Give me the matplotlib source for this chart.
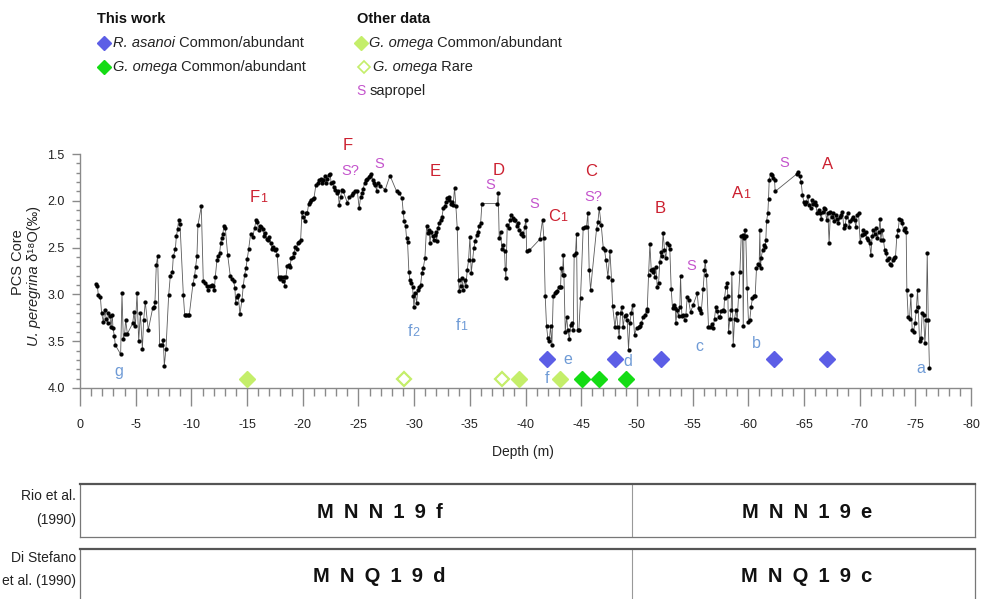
import matplotlib
matplotlib.use('Agg')
import matplotlib.pyplot as plt
import numpy as np
from matplotlib.ticker import FixedLocator, MultipleLocator

plt.rcParams['font.family'] = ['Liberation Sans', 'DejaVu Sans']

# ---------------- data: U. peregrina d18O vs depth ----------------
depth_1 = [-1.44, -1.56, -1.65, -1.83, -1.94, -2.09, -2.24, -2.36, -2.48, -2.54,
           -2.69, -2.78, -2.90, -2.96, -3.08, -3.17, -3.65, -3.77, -3.89, -4.01,
           -4.10, -4.25, -4.73, -4.85, -4.97, -5.12, -5.27, -5.42, -5.60, -5.72,
           -5.86, -6.13, -6.52, -6.64, -6.73, -6.85, -6.97, -7.15, -7.33, -7.48,
           -7.57, -7.72, -7.96, -8.11, -8.29, -8.38, -8.56, -8.65, -8.77, -8.86,
           -8.98, -9.28, -9.40, -9.52, -9.67, -9.81, -10.14, -10.29, -10.38, -10.50,
           -10.59, -10.89, -11.07, -11.22, -11.37, -11.52, -11.67, -11.82, -11.97, -12.06,
           -12.15, -12.30, -12.42, -12.54, -12.63, -12.72, -12.81, -12.93, -13.05, -13.26,
           -13.49, -13.64, -13.79, -13.91, -13.97, -14.06, -14.21, -14.36]
d18o_1 = [2.89, 2.91, 3.01, 3.03, 3.20, 3.29, 3.17, 3.26, 3.31, 3.20,
          3.23, 3.35, 3.22, 3.36, 3.44, 3.54, 3.64, 2.99, 3.48, 3.42,
          3.27, 3.42, 3.31, 3.19, 3.34, 2.99, 3.50, 3.20, 3.58, 3.27,
          3.08, 3.38, 3.15, 3.13, 3.08, 2.69, 2.59, 3.54, 3.54, 3.49,
          3.76, 3.58, 3.01, 2.80, 2.76, 2.59, 2.52, 2.38, 2.30, 2.20,
          2.25, 3.01, 3.22, 3.22, 3.22, 3.22, 2.89, 2.80, 2.71, 2.59,
          2.26, 2.06, 2.86, 2.88, 2.91, 2.95, 2.91, 2.90, 2.91, 2.95,
          2.81, 2.63, 2.59, 2.56, 2.45, 2.40, 2.36, 2.27, 2.29, 2.58,
          2.80, 2.84, 2.86, 2.93, 3.09, 3.03, 3.01, 3.21]

depth_2 = [-14.54, -14.66, -14.78, -14.90, -15.02, -15.14, -15.32, -15.50, -15.68, -15.80,
           -15.92, -16.04, -16.16, -16.28, -16.40, -16.52, -16.64, -16.76, -16.88, -17.00,
           -17.12, -17.24, -17.35, -17.48, -17.59, -17.71, -17.83, -17.95, -18.07, -18.19,
           -18.31, -18.37, -18.49, -18.61, -18.73, -18.85, -18.97, -19.09, -19.21, -19.33,
           -19.45, -19.57, -19.69, -19.81, -19.93, -20.05, -20.17, -20.29, -20.41, -20.53,
           -20.65, -20.77, -20.89, -21.01, -21.18, -21.36, -21.48, -21.60, -21.72, -21.84,
           -21.96, -22.08, -22.20, -22.32, -22.44, -22.56, -22.68, -22.80, -22.92, -23.04,
           -23.16, -23.28, -23.40, -23.52, -23.64, -24.00, -24.18, -24.42, -24.54, -24.72,
           -24.90, -25.07, -25.19, -25.31, -25.43, -25.55, -25.67, -25.79, -25.91, -26.03,
           -26.15, -26.27, -26.39, -26.51, -26.63, -26.75, -26.93, -27.41, -27.83, -28.43,
           -28.67, -28.91, -29.02, -29.11, -29.23, -29.32, -29.41, -29.53, -29.62, -29.74,
           -29.86, -29.92, -29.98, -30.10, -30.22, -30.34, -30.46, -30.58, -30.70, -30.82,
           -30.97]
d18o_2 = [3.06, 2.91, 2.79, 2.72, 2.62, 2.52, 2.35, 2.39, 2.29, 2.21,
          2.23, 2.31, 2.27, 2.28, 2.30, 2.38, 2.34, 2.41, 2.42, 2.39,
          2.45, 2.52, 2.49, 2.53, 2.51, 2.58, 2.81, 2.84, 2.81, 2.86,
          2.81, 2.91, 2.81, 2.70, 2.69, 2.71, 2.61, 2.60, 2.56, 2.49,
          2.51, 2.45, 2.44, 2.42, 2.12, 2.17, 2.22, 2.13, 2.13, 2.03,
          2.01, 1.99, 1.98, 1.97, 1.83, 1.81, 1.78, 1.77, 1.81, 1.78,
          1.74, 1.81, 1.77, 1.72, 1.71, 1.81, 1.80, 1.85, 1.88, 1.92,
          1.90, 2.04, 1.96, 1.88, 1.90, 2.02, 1.96, 1.94, 1.92, 1.90,
          1.90, 2.08, 1.96, 1.92, 1.87, 1.81, 1.78, 1.77, 1.75, 1.73,
          1.71, 1.78, 1.81, 1.83, 1.89, 1.81, 1.84, 1.88, 1.73, 1.90,
          1.92, 1.97, 2.12, 2.22, 2.27, 2.40, 2.44, 2.76, 2.85, 2.88,
          2.92, 3.02, 3.13, 2.99, 3.09, 2.95, 2.92, 2.90, 2.77, 2.72,
          2.61]

depth_3 = [-31.12, -31.24, -31.36, -31.42, -31.54, -31.66, -31.78, -31.84, -31.96, -32.02,
           -32.14, -32.26, -32.38, -32.50, -32.62, -32.74, -32.85, -32.97, -33.09, -33.15,
           -33.27, -33.39, -33.51, -33.63, -33.75, -33.87, -33.99, -34.05, -34.17, -34.29,
           -34.41, -34.53, -34.65, -34.77, -34.89, -35.01, -35.13, -35.25, -35.37, -35.49,
           -35.61, -35.73, -35.85, -35.97, -36.09, -37.46, -37.55, -37.64, -37.76, -37.88,
           -38.00, -38.12, -38.18, -38.24, -38.36, -38.48, -38.60, -38.72, -38.84, -38.96,
           -39.08, -39.20, -39.32, -39.44, -39.56, -39.68, -39.80, -39.92, -40.04, -40.10,
           -40.34, -41.29, -41.53, -41.65, -41.77, -41.89, -42.01, -42.13, -42.25, -42.37,
           -42.49, -42.61, -42.73, -42.85, -42.97, -43.09]
d18o_3 = [2.27, 2.34, 2.31, 2.45, 2.33, 2.38, 2.42, 2.37, 2.33, 2.43,
          2.29, 2.24, 2.20, 2.17, 2.08, 2.06, 2.01, 1.97, 1.96, 1.99,
          2.03, 2.01, 2.04, 1.86, 2.06, 2.29, 2.85, 2.96, 2.91, 2.83,
          2.95, 2.85, 2.91, 2.74, 2.63, 2.39, 2.77, 2.63, 2.50, 2.43,
          2.37, 2.33, 2.27, 2.24, 2.03, 2.03, 1.92, 2.40, 2.33, 2.52,
          2.47, 2.54, 2.73, 2.83, 2.26, 2.29, 2.20, 2.15, 2.18, 2.21,
          2.20, 2.27, 2.24, 2.31, 2.35, 2.34, 2.38, 2.28, 2.20, 2.54,
          2.53, 2.41, 2.20, 2.40, 3.02, 3.34, 3.47, 3.50, 3.34, 3.54,
          3.02, 2.99, 2.97, 2.96, 2.92, 2.92]

depth_4 = [-43.15, -43.21, -43.33, -43.39, -43.45, -43.57, -43.69, -43.81, -43.93, -44.05,
           -44.17, -44.29, -44.37, -44.49, -44.58, -44.67, -44.79, -44.94, -45.18, -45.33,
           -45.48, -45.60, -45.72, -45.84, -46.38, -46.50, -46.62, -46.80, -46.98, -47.10,
           -47.22, -47.40, -47.58, -47.73, -47.82, -48.03, -48.18, -48.29, -48.41, -48.53,
           -48.65, -48.77, -48.89, -49.01, -49.13, -49.25, -49.37, -49.49, -49.61, -49.79,
           -49.97, -50.15, -50.27, -50.39, -50.57, -50.75, -50.87, -50.93, -51.05, -51.17,
           -51.29, -51.41, -51.47, -51.59, -51.71, -51.83, -51.95, -52.06, -52.15, -52.24,
           -52.36, -52.48, -52.60, -52.72, -52.84, -52.96, -53.08, -53.20, -53.32, -53.44,
           -53.50, -53.62, -53.74, -53.86, -53.92, -54.04, -54.16, -54.28, -54.40, -54.52,
           -54.64, -54.82, -55.06, -55.42, -55.54, -55.66, -55.77, -55.95, -56.07, -56.13,
           -56.25, -56.43, -56.61, -56.73, -56.85, -56.97, -57.09, -57.21, -57.33]
d18o_4 = [2.92, 2.72, 2.79, 2.58, 2.79, 3.40, 3.24, 3.38, 3.48, 3.33,
          3.31, 3.38, 2.58, 2.56, 2.35, 3.38, 3.38, 3.04, 2.29, 2.28,
          2.28, 2.13, 2.74, 2.95, 2.30, 2.23, 2.08, 2.26, 2.50, 2.53,
          2.63, 2.81, 2.54, 2.85, 3.12, 3.35, 3.20, 3.35, 3.45, 3.20,
          3.13, 3.35, 3.23, 3.22, 3.27, 3.59, 3.31, 3.20, 3.11, 3.43,
          3.36, 3.35, 3.34, 3.31, 3.24, 3.22, 3.18, 3.16, 2.79, 2.46,
          2.74, 2.76, 2.73, 2.81, 2.71, 2.92, 2.88, 2.65, 2.55, 2.59,
          2.34, 2.53, 2.61, 2.45, 2.47, 2.52, 2.94, 3.15, 3.11, 3.14,
          3.31, 3.17, 3.23, 3.13, 2.80, 3.23, 3.22, 3.27, 3.22, 3.03,
          3.06, 3.19, 3.11, 2.99, 3.15, 3.17, 3.20, 2.94, 2.74, 2.64,
          2.79, 3.35, 3.35, 3.32, 3.36, 3.26, 3.13, 3.18, 3.24]

depth_5 = [-57.45, -57.57, -57.69, -57.81, -57.87, -57.99, -58.11, -58.17, -58.23, -58.35,
           -58.47, -58.53, -58.65, -58.77, -58.89, -59.01, -59.13, -59.25, -59.37, -59.49,
           -59.55, -59.61, -59.72, -59.78, -59.90, -60.02, -60.14, -60.26, -60.38, -60.50,
           -60.62, -60.74, -60.86, -60.98, -61.04, -61.10, -61.16, -61.28, -61.40, -61.52,
           -61.58, -61.64, -61.76, -61.82, -61.88, -62.00, -62.12, -62.24, -62.36, -62.42,
           -64.39, -64.51, -64.63, -64.75, -64.87, -64.99, -65.11, -65.23, -65.35, -65.47,
           -65.59, -65.71, -65.83, -65.95, -66.07, -66.19, -66.31, -66.43, -66.55, -66.67,
           -66.79, -66.91, -67.03, -67.15, -67.26, -67.38, -67.50, -67.62, -67.74, -67.86,
           -67.98, -68.10, -68.22, -68.34, -68.46, -68.58, -68.70, -68.82, -68.94, -69.06,
           -69.18, -69.30, -69.42, -69.54, -69.66, -69.78, -69.90]
d18o_5 = [3.24, 3.18, 3.17, 3.18, 3.04, 2.92, 2.88, 3.02, 3.40, 3.26,
          3.17, 2.77, 3.54, 3.26, 3.17, 3.27, 3.02, 2.76, 2.38, 2.37,
          3.34, 2.40, 2.31, 2.38, 2.93, 3.29, 3.27, 3.13, 3.04, 3.02,
          3.02, 2.72, 2.67, 2.69, 2.31, 2.72, 2.61, 2.53, 2.47, 2.49,
          2.42, 2.22, 2.13, 1.98, 1.78, 1.71, 1.72, 1.76, 1.78, 1.90,
          1.71, 1.69, 1.74, 1.80, 1.94, 2.01, 2.03, 2.01, 1.95, 2.04,
          2.08, 1.99, 2.03, 2.01, 2.05, 2.13, 2.10, 2.13, 2.19, 2.12,
          2.08, 2.09, 2.20, 2.13, 2.45, 2.12, 2.17, 2.13, 2.22, 2.15,
          2.19, 2.24, 2.17, 2.15, 2.12, 2.29, 2.26, 2.17, 2.13, 2.28,
          2.22, 2.19, 2.17, 2.20, 2.28, 2.15, 2.13]

depth_6 = [-70.05, -70.17, -70.29, -70.41, -70.53, -70.65, -70.77, -70.89, -71.01, -71.12,
           -71.24, -71.36, -71.48, -71.60, -71.72, -71.84, -71.90, -72.02, -72.14, -72.26,
           -72.38, -72.50, -72.62, -72.74, -72.86, -72.98, -73.10, -73.22, -73.34, -73.46,
           -73.58, -73.70, -73.82, -73.94, -74.06, -74.18, -74.24, -74.36, -74.48, -74.60,
           -74.72, -74.84, -74.96, -75.08, -75.20, -75.26, -75.38, -75.50, -75.62, -75.74,
           -75.86, -75.98, -76.07, -76.16, -76.27]
d18o_6 = [2.44, 2.37, 2.31, 2.35, 2.33, 2.40, 2.42, 2.45, 2.58, 2.38,
          2.31, 2.35, 2.29, 2.40, 2.33, 2.19, 2.42, 2.31, 2.42, 2.53,
          2.56, 2.63, 2.61, 2.67, 2.69, 2.63, 2.61, 2.60, 2.38, 2.31,
          2.19, 2.20, 2.24, 2.31, 2.29, 2.33, 2.95, 3.24, 3.26, 3.01,
          3.38, 3.40, 3.31, 3.18, 2.95, 3.13, 3.50, 3.47, 3.20, 3.22,
          3.52, 3.27, 2.56, 3.27, 3.79]

# ---------------- data: biostratigraphic markers ----------------
asanoi_depth = [-41.95, -48.06, -52.2, -62.3, -67.1]
asanoi_level = 3.69
omega_this_depth = [-45.03, -46.56, -49.04]
omega_other_depth = [-14.96, -39.38, -43.09]
omega_rare_depth = [-29.08, -37.91]
omega_level = 3.90

# event labels (text, depth, value, subscript)
red_labels = [("F", -15.7, 1.96, "1"), ("F", -24.0, 1.41, ""), ("E", -31.9, 1.69, ""),
              ("D", -37.6, 1.68, ""), ("C", -42.6, 2.17, "1"), ("C", -45.9, 1.69, ""),
              ("B", -52.1, 2.08, ""), ("A", -59.0, 1.92, "1"), ("A", -67.1, 1.61, "")]
sapropel_labels = [("S?", -24.3, 1.68), ("S", -26.9, 1.61), ("S", -36.8, 1.83),
                   ("S", -40.8, 2.03), ("S?", -46.1, 1.96), ("S", -54.9, 2.70),
                   ("S", -63.2, 1.60)]
blue_labels = [("g", -3.44, 3.82, ""), ("f", -29.6, 3.40, "2"), ("f", -33.9, 3.33, "1"),
               ("f", -41.95, 3.90, ""), ("e", -43.8, 3.70, ""), ("d", -49.2, 3.72, ""),
               ("c", -55.6, 3.56, ""), ("b", -60.7, 3.52, ""), ("a", -75.5, 3.79, "")]

x_ticks = list(range(0, -81, -5))
y_ticks = [1.5, 2.0, 2.5, 3.0, 3.5, 4.0]

zone_boundary = -49.6
SP = "\u2002"
rio_zones = [(SP.join("MNN19f"), -26.9), (SP.join("MNN19e"), -65.3)]
ds_zones = [(SP.join("MNQ19d"), -26.9), (SP.join("MNQ19c"), -65.3)]

C_BLUE = '#5C5EE6'
C_GREEN = '#14DC14'
C_LGREEN = '#C4EE6A'
C_RED = '#CC2030'
C_MAG = '#C454CC'
C_LBLUE = '#6F9BD6'
C_AXIS = '#8A8A8A'
C_TXT = '#222222'

W, H = 985, 599
fig = plt.figure(figsize=(W / 100, H / 100), dpi=100)

def fx(px):
    return px / W

def fy(py):
    return 1 - py / H

ax = fig.add_axes([fx(80), fy(388), fx(971) - fx(80), fy(154) - fy(388)])
depth = np.concatenate([depth_1, depth_2, depth_3, depth_4, depth_5, depth_6])
d18o = np.concatenate([d18o_1, d18o_2, d18o_3, d18o_4, d18o_5, d18o_6])
ax.plot(depth, d18o, color='#5a5a5a', lw=0.6, marker='o', ms=2.8, mew=0.2,
        mfc='black', mec='black', zorder=3, clip_on=False)

ax.plot(asanoi_depth, [asanoi_level] * len(asanoi_depth), ls='none', marker='D', ms=8.6,
        mfc=C_BLUE, mec=C_BLUE, zorder=4, clip_on=False)
ax.plot(omega_this_depth, [omega_level] * len(omega_this_depth), ls='none', marker='D', ms=8.6,
        mfc=C_GREEN, mec=C_GREEN, zorder=4, clip_on=False)
ax.plot(omega_other_depth, [omega_level] * len(omega_other_depth), ls='none', marker='D', ms=8.6,
        mfc=C_LGREEN, mec=C_LGREEN, zorder=4, clip_on=False)
ax.plot(omega_rare_depth, [omega_level] * len(omega_rare_depth), ls='none', marker='D', ms=7.6,
        mfc='white', mec=C_LGREEN, mew=1.6, zorder=4, clip_on=False)

ax.set_xlim(0, -80)
ax.set_ylim(4.0, 1.5)
for s in ['top', 'right']:
    ax.spines[s].set_visible(False)
for s in ['left', 'bottom']:
    ax.spines[s].set_color(C_AXIS)
    ax.spines[s].set_linewidth(1.0)

ax.xaxis.set_major_locator(FixedLocator(x_ticks))
ax.set_xticklabels([str(t) for t in x_ticks])
ax.xaxis.set_minor_locator(MultipleLocator(1))
ax.yaxis.set_major_locator(FixedLocator(y_ticks))
ax.set_yticklabels([f"{t:.1f}" for t in y_ticks])
ax.yaxis.set_minor_locator(MultipleLocator(0.1))
ax.tick_params(axis='x', which='major', direction='out', length=13, width=1, color=C_AXIS,
               labelsize=9, labelcolor=C_TXT, pad=9)
ax.tick_params(axis='x', which='minor', direction='out', length=6, width=1, color=C_AXIS)
ax.tick_params(axis='y', which='major', direction='out', length=6, width=1, color=C_AXIS,
               labelsize=9, labelcolor=C_TXT, pad=5)
ax.tick_params(axis='y', which='minor', direction='out', length=3, width=1, color=C_AXIS)
ax.set_facecolor('none')

def label_with_sub(text, x, y, sub, color, size, subsize):
    t = ax.text(x, y, text, color=color, fontsize=size, ha='center', va='center',
                clip_on=False, zorder=5)
    if sub:
        ax.annotate(sub, xy=(1.0, 0.0), xycoords=t, ha='left', va='bottom',
                    color=color, fontsize=subsize, annotation_clip=False, zorder=5)
    return t

for txt, x, y, sub in red_labels:
    label_with_sub(txt, x, y, sub, C_RED, 12, 9)
for txt, x, y in sapropel_labels:
    ax.text(x, y, txt, color=C_MAG, fontsize=10.5, ha='center', va='center', clip_on=False)
for txt, x, y, sub in blue_labels:
    label_with_sub(txt, x, y, sub, C_LBLUE, 11.5, 9)

fig.text(fx(523), fy(452), "Depth (m)", fontsize=10, color=C_TXT, ha='center', va='center')
fig.text(fx(18), fy(262), "PCS Core", fontsize=10.5, color=C_TXT, rotation=90,
         ha='center', va='center')
t_up = fig.text(fx(34), fy(346), "U. peregrina", fontsize=10.5, color=C_TXT, rotation=90,
                ha='center', va='bottom', fontstyle='italic')
fig.add_artist(matplotlib.text.Annotation(" δ¹⁸O(‰)", xy=(0.5, 1.0), xycoords=t_up,
                                          ha='center', va='bottom', rotation=90,
                                          fontsize=10.5, color=C_TXT))

# ---------------- legend (drawn as layout in pixel space) ----------------
lg = fig.add_axes([0, 0, 1, 1], zorder=6)
lg.set_xlim(0, W)
lg.set_ylim(H, 0)
lg.axis('off')

LFS = 10.5

def legend_row(x_mark, x_text, y, it_text, rest, marker_kw=None, s_marker=False):
    if s_marker:
        lg.text(x_mark, y, "S", color=C_MAG, fontsize=10, ha='left', va='center')
    else:
        lg.plot([x_mark], [y], ls='none', marker='D', **marker_kw)
    if it_text:
        t = lg.text(x_text, y, it_text, fontsize=LFS, fontstyle='italic', color=C_TXT,
                    ha='left', va='center')
        lg.annotate(rest, xy=(1.0, 0.0), xycoords=t, ha='left', va='bottom',
                    fontsize=LFS, color=C_TXT)
    else:
        lg.text(x_text, y, rest, fontsize=LFS, color=C_TXT, ha='left', va='center')

lg.text(97, 19, "This work", fontsize=LFS, fontweight='bold', color='#111111', ha='left', va='center')
legend_row(104, 113, 43, "R. asanoi", " Common/abundant",
           dict(ms=7.0, mfc=C_BLUE, mec=C_BLUE))
legend_row(104, 113, 67, "G. omega", " Common/abundant",
           dict(ms=7.0, mfc=C_GREEN, mec=C_GREEN))
lg.text(357, 19, "Other data", fontsize=LFS, fontweight='bold', color='#111111', ha='left', va='center')
legend_row(361, 369, 43, "G. omega", " Common/abundant",
           dict(ms=7.0, mfc=C_LGREEN, mec=C_LGREEN))
legend_row(364, 373, 67, "G. omega", " Rare",
           dict(ms=6.4, mfc='white', mec=C_LGREEN, mew=1.2))
legend_row(356, 370, 91, None, "sapropel", s_marker=True)

# ---------------- zone boxes ----------------
def zone_box(top_px, bot_px, zones, lab1, lab2, lab_y1, lab_y2):
    bx = fig.add_axes([fx(80), fy(bot_px), fx(975) - fx(80), fy(top_px) - fy(bot_px)])
    bx.set_xlim(0, -80.4)
    bx.set_ylim(0, 1)
    bx.set_xticks([])
    bx.set_yticks([])
    for s in bx.spines.values():
        s.set_color('#777777')
        s.set_linewidth(0.9)
    bx.spines['top'].set_color('#555555')
    bx.spines['top'].set_linewidth(1.6)
    bx.axvline(zone_boundary, color='#999999', lw=0.8)
    for name, x in zones:
        bx.text(x, 1 - 28 / (bot_px - top_px), name, ha='center', va='center',
                fontsize=14.5, fontweight='bold', color='#111111')
    fig.text(fx(76), fy(lab_y1), lab1, ha='right', va='center', fontsize=10, color=C_TXT)
    fig.text(fx(76), fy(lab_y2), lab2, ha='right', va='center', fontsize=10, color=C_TXT)

zone_box(484, 537, rio_zones, "Rio et al.", "(1990)", 496, 520)
zone_box(549, 607, ds_zones, "Di Stefano", "et al. (1990)", 558, 581)

fig.savefig('out.png', dpi=100)
